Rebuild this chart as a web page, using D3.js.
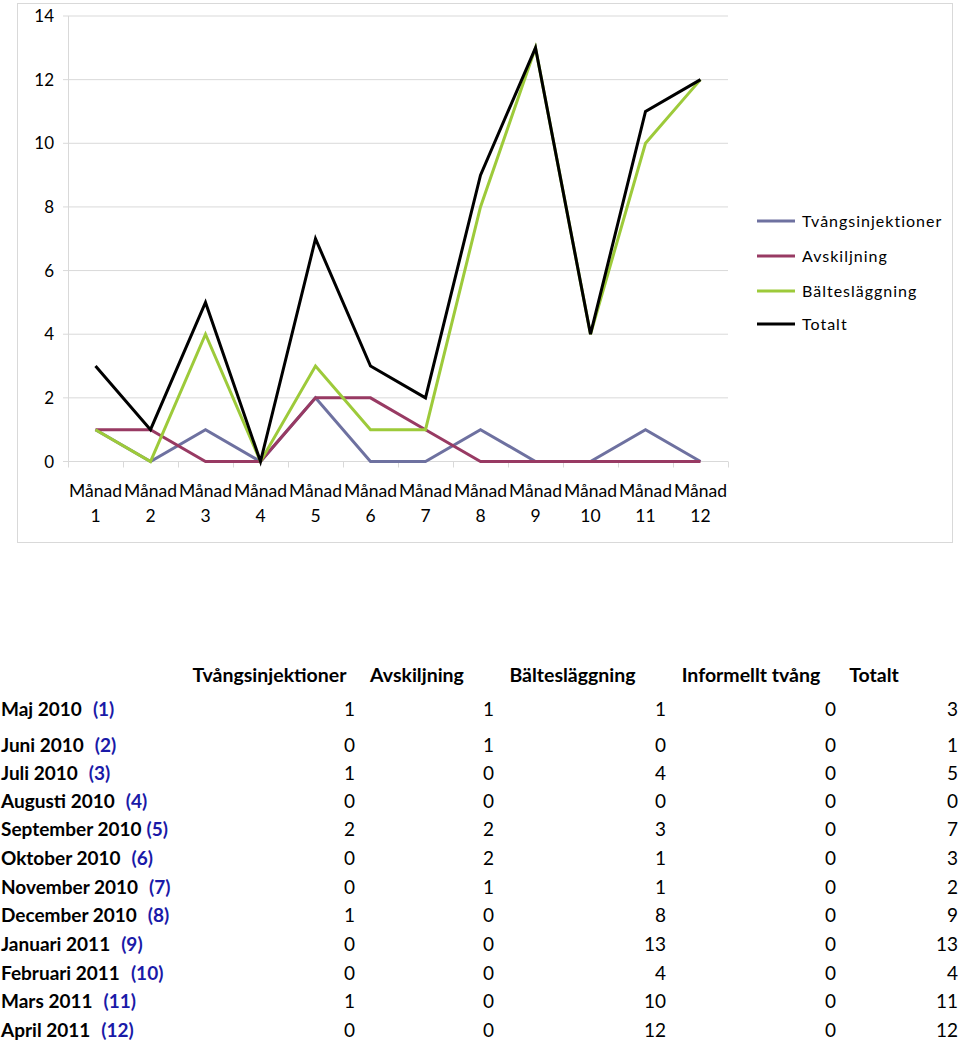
<!DOCTYPE html>
<html><head><meta charset="utf-8">
<script src="https://cdn.jsdelivr.net/npm/d3@7"></script>
<style>
html,body{margin:0;padding:0;background:#fff;}
svg{display:block;font-family:Lato, "Open Sans", sans-serif;}
</style></head>
<body>
<script>
// ---- data ----
const months = ["1","2","3","4","5","6","7","8","9","10","11","12"];
const monthWord = "Månad";
const yTicks = [0,2,4,6,8,10,12,14];
const tvang = [1,0,1,0,2,0,0,1,0,0,1,0];
const avskiljning = [1,1,0,0,2,2,1,0,0,0,0,0];
const baltes = [1,0,4,0,3,1,1,8,13,4,10,12];
const informellt = [0,0,0,0,0,0,0,0,0,0,0,0];
const totalt = [3,1,5,0,7,3,2,9,13,4,11,12];
const seriesNames = ["Tvångsinjektioner","Avskiljning","Bältesläggning","Totalt"];
const seriesColors = ["#6e71a0","#983a63","#9dca3a","#000000"];
const tableHeaders = ["Tvångsinjektioner","Avskiljning","Bältesläggning","Informellt tvång","Totalt"];
const rowLabels = ["Maj 2010","Juni 2010","Juli 2010","Augusti 2010","September 2010","Oktober 2010","November 2010","December 2010","Januari 2011","Februari 2011","Mars 2011","April 2011"];
const rowNums = ["(1)","(2)","(3)","(4)","(5)","(6)","(7)","(8)","(9)","(10)","(11)","(12)"];

const W = 960, H = 1042;
const svg = d3.select("body").append("svg").attr("width", W).attr("height", H);

// chart frame
svg.append("rect").attr("x",17.5).attr("y",3.5).attr("width",935).attr("height",539)
  .attr("fill","#fff").attr("stroke","#d9d9d9").attr("stroke-width",1);

const x = d3.scaleBand().domain(months).range([68,728]).padding(0);
const y = d3.scaleLinear().domain([0,14]).range([461.5,16]);
const cx = m => x(m) + x.bandwidth()/2;

// gridlines
svg.append("g").selectAll("line").data(yTicks).join("line")
  .attr("x1",63).attr("x2",728).attr("y1",d=>y(d)).attr("y2",d=>y(d))
  .attr("stroke","#d9d9d9").attr("stroke-width",1);
// y axis line
svg.append("line").attr("x1",68.5).attr("x2",68.5).attr("y1",y(14)).attr("y2",y(0))
  .attr("stroke","#d9d9d9");
// x ticks
const bounds = months.map(m=>x(m)).concat([x.range()[1]]);
svg.append("g").selectAll("line").data(bounds).join("line")
  .attr("x1",d=>d+0.5).attr("x2",d=>d+0.5).attr("y1",y(0)).attr("y2",y(0)+6)
  .attr("stroke","#d9d9d9");
// y labels
svg.append("g").selectAll("text").data(yTicks).join("text")
  .attr("x",54).attr("y",d=>y(d)).attr("dy","0.36em").attr("text-anchor","end")
  .attr("font-size",17).attr("fill","#000").text(d=>d);
// x labels
const xl = svg.append("g").selectAll("g").data(months).join("g");
xl.append("text").attr("x",d=>cx(d)).attr("y",497).attr("text-anchor","middle")
  .attr("font-size",17.5).text(monthWord);
xl.append("text").attr("x",d=>cx(d)).attr("y",522).attr("text-anchor","middle")
  .attr("font-size",17.5).text(d=>d);

// lines
const seriesData = [tvang, avskiljning, baltes, totalt];
const line = d3.line().x((d,i)=>cx(months[i])).y(d=>y(d));
seriesData.forEach((s,k)=>{
  svg.append("path").datum(s).attr("d",line).attr("fill","none")
    .attr("stroke",seriesColors[k]).attr("stroke-width",3).attr("stroke-linejoin","miter");
});

// legend
const legY = [221,256,291,324];
seriesNames.forEach((n,k)=>{
  svg.append("line").attr("x1",757).attr("x2",795).attr("y1",legY[k]).attr("y2",legY[k])
    .attr("stroke",seriesColors[k]).attr("stroke-width",3);
  svg.append("text").attr("x",802).attr("y",legY[k]).attr("dy","0.36em")
    .attr("font-size",16).attr("letter-spacing",1).text(n);
});

// table
const headerCenters = [269.5,417,572.5,751,874];
svg.append("g").selectAll("text").data(tableHeaders).join("text")
  .attr("x",(d,i)=>headerCenters[i]).attr("y",682).attr("text-anchor","middle")
  .attr("font-size",19.5).attr("font-weight","bold").text(d=>d);

const rowY = [716,752,780,808,836,865,894,922,951,980,1008,1037];
const colRight = [355,494,666,836,958];
const cols = [tvang, avskiljning, baltes, informellt, totalt];
rowLabels.forEach((lab,i)=>{
  const t = svg.append("text").attr("x",1).attr("y",rowY[i])
    .attr("font-size",19).attr("font-weight","bold");
  t.append("tspan").attr("fill","#000").text(lab);
  t.append("tspan").attr("dx", lab.startsWith("September") ? 5 : 11).attr("fill","#1a1aa8").text(rowNums[i]);
  cols.forEach((c,j)=>{
    svg.append("text").attr("x",colRight[j]).attr("y",rowY[i]).attr("text-anchor","end")
      .attr("font-size",19).text(c[i]);
  });
});
</script>
</body></html>
